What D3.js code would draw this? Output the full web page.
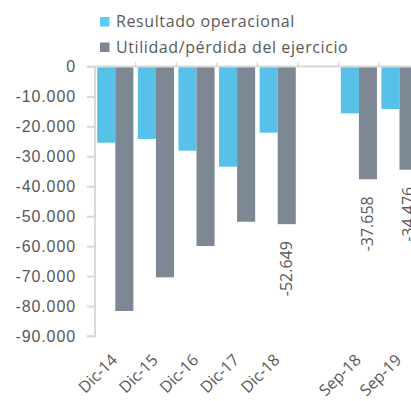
<!DOCTYPE html>
<html>
<head>
<meta charset="utf-8">
<script src="https://cdn.jsdelivr.net/npm/d3@7"></script>
<style>
  body { margin: 0; background: #fff; }
  svg { display: block; font-family: "Open Sans", sans-serif; }
</style>
</head>
<body>
<div id="chart"></div>
<script>
// Data
var categories = ["Dic-14", "Dic-15", "Dic-16", "Dic-17", "Dic-18", "", "Sep-18", "Sep-19"];
var resultadoOperacional = [-25450, -24200, -28100, -33450, -22100, null, -15650, -14200];
var utilidadPerdida = [-81650, -70400, -59950, -51850, -52649, null, -37658, -34476];
var labelled = [null, null, null, null, "-52.649", null, "-37.658", "-34.476"];
var yTicks = [0, -10000, -20000, -30000, -40000, -50000, -60000, -70000, -80000, -90000];
var seriesNames = ["Resultado operacional", "Utilidad/pérdida del ejercicio"];
var colors = ["#58c1e7", "#7e8794"];

var width = 411, height = 401;

var svg = d3.select("#chart")
  .append("svg")
  .attr("width", width)
  .attr("height", height);

// Scales
var x = d3.scaleBand()
  .domain(categories)
  .range([95, 95 + 8 * 40.6])
  .paddingInner(0.11)
  .paddingOuter(0.055);

var x1 = d3.scaleBand()
  .domain([0, 1])
  .range([0, x.bandwidth()]);

var y = d3.scaleLinear()
  .domain([-90000, 0])
  .range([336, 66.5]);

var fmt = function(v) {
  return v === 0 ? "0" : d3.format(",")(v).replace(/,/g, ".").replace("−", "-");
};

// Y axis
var yAxis = svg.append("g")
  .attr("transform", "translate(95,0)")
  .call(d3.axisLeft(y).tickValues(yTicks).tickFormat(fmt).tickSize(8).tickPadding(11));
yAxis.select(".domain").attr("stroke", "#d9d9d9").attr("stroke-width", 2)
  .attr("d", "M-8,336H0V66.5");
yAxis.selectAll(".tick line").attr("stroke", "#d9d9d9").attr("stroke-width", 2);
yAxis.selectAll(".tick text")
  .attr("fill", "#595959")
  .attr("x", -19)
  .style("font-size", "16px")
  .style("letter-spacing", "0.9px");

// Bars
var rows = categories.map(function(c, i) {
  return { cat: c, vals: [resultadoOperacional[i], utilidadPerdida[i]], label: labelled[i] };
});

var groups = svg.selectAll(".grp")
  .data(rows)
  .enter().append("g")
  .attr("class", "grp")
  .attr("transform", d => "translate(" + x(d.cat) + ",0)");

groups.selectAll("rect")
  .data(d => d.vals.map((v, i) => ({ v: v, i: i })).filter(e => e.v !== null))
  .enter().append("rect")
  .attr("x", e => x1(e.i))
  .attr("y", y(0))
  .attr("width", x1.bandwidth())
  .attr("height", e => y(e.v) - y(0))
  .attr("fill", e => colors[e.i]);

// Zero line with category ticks
svg.append("line")
  .attr("x1", 87).attr("x2", width)
  .attr("y1", y(0)).attr("y2", y(0))
  .attr("stroke", "#d9d9d9").attr("stroke-width", 2);

var step = x.step();
var boundaries = d3.range(1, categories.length).map(i => 95 + i * step);
svg.selectAll(".ctick")
  .data(boundaries)
  .enter().append("line")
  .attr("x1", d => d).attr("x2", d => d)
  .attr("y1", y(0) - 4).attr("y2", y(0))
  .attr("stroke", "#d9d9d9").attr("stroke-width", 1.5);

// Value labels under some bars
groups.filter(d => d.label)
  .append("text")
  .attr("transform", d => "translate(" + (x1(1) + x1.bandwidth() / 2 + 5) + "," + (y(d.vals[1]) + 17) + ") rotate(-90)")
  .attr("text-anchor", "end")
  .attr("fill", "#595959")
  .style("font-size", "16px")
  .text(d => d.label);

// X labels
svg.selectAll(".xlab")
  .data(categories.filter(c => c !== ""))
  .enter().append("text")
  .attr("transform", c => "translate(" + (x(c) + x.bandwidth() / 2 + 3) + ",361) rotate(-45)")
  .attr("text-anchor", "end")
  .attr("fill", "#595959")
  .style("font-size", "16px")
  .text(c => c);

// Legend
var legend = svg.selectAll(".leg")
  .data(seriesNames)
  .enter().append("g")
  .attr("transform", (d, i) => "translate(100," + (17 + i * 25.5) + ")");
legend.append("rect")
  .attr("width", 9.5).attr("height", 9.5)
  .attr("fill", (d, i) => i === 0 ? "#5ecdf4" : colors[1]);
legend.append("text")
  .attr("x", 16).attr("y", 10)
  .attr("fill", "#595959")
  .style("font-size", "16px")
  .style("letter-spacing", "0.6px")
  .text(d => d);
</script>
</body>
</html>
